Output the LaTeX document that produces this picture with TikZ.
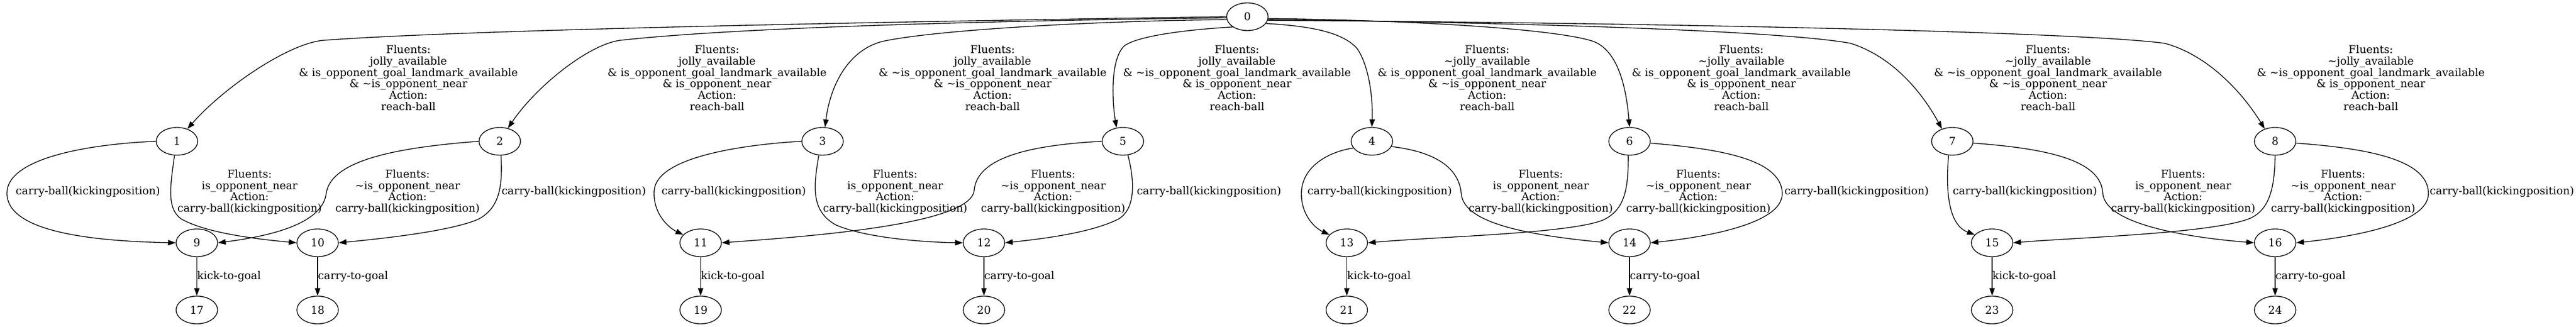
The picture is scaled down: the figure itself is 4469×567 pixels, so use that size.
\documentclass[tikz,border=0pt]{standalone}
\usepackage{fontspec}
\setmainfont{DejaVu Serif}
\usetikzlibrary{arrows.meta,shapes.geometric}

\begin{document}
\begin{tikzpicture}[x=0.75pt,y=-0.75pt]
    \tikzstyle{every node}+=[inner sep=0pt, font=\fontsize{14pt}{14.85pt}\selectfont]
    \tikzstyle{state}=[draw, ellipse, minimum width=54pt, minimum height=36pt, line width=1pt]
    \tikzstyle{lbl}=[align=center]
    \tikzstyle{tr}=[draw, line width=1pt, -{Triangle[length=10pt,width=7pt]}]
    \useasboundingbox (0,0) rectangle (4469,567);
    % states
    \node[state] (n0) at (2164,29) {0};
    \node[state] (n1) at (307,245) {1};
    \node[state] (n2) at (867,245) {2};
    \node[state] (n3) at (1427,245) {3};
    \node[state] (n5) at (1948,245) {5};
    \node[state] (n4) at (2380,245) {4};
    \node[state] (n6) at (2827,245) {6};
    \node[state] (n7) at (3387,245) {7};
    \node[state] (n8) at (3947,245) {8};
    \node[state] (n9) at (341.5,421) {9};
    \node[state] (n10) at (551,421) {10};
    \node[state] (n11) at (1215.5,421) {11};
    \node[state] (n12) at (1707,421) {12};
    \node[state] (n13) at (2336.5,421) {13};
    \node[state] (n14) at (2827,421) {14};
    \node[state] (n15) at (3456,421) {15};
    \node[state] (n16) at (3947,421) {16};
    \node[state] (n17) at (341.5,537.5) {17};
    \node[state] (n18) at (551,537.5) {18};
    \node[state] (n19) at (1215.5,537.5) {19};
    \node[state] (n20) at (1707,537.5) {20};
    \node[state] (n21) at (2336.5,537.5) {21};
    \node[state] (n22) at (2827,537.5) {22};
    \node[state] (n23) at (3456,537.5) {23};
    \node[state] (n24) at (3947,537.5) {24};
    % reach-ball from 0
    \draw[tr] (n0.west) .. controls (1500,38) and (800,52) .. (560,70) .. controls (500,76) and (390,150) .. (n1.50);
    \draw[tr] (n0.183) .. controls (1800,35) and (1300,45) .. (1075,70) .. controls (1020,78) and (930,150) .. (n2.58);
    \draw[tr] (n0.188) .. controls (1900,36) and (1620,52) .. (1530,72) .. controls (1470,88) and (1440,150) .. (n3.80);
    \draw[tr] (n0.215) .. controls (2080,50) and (1975,60) .. (1950,80) .. controls (1925,105) and (1930,180) .. (n5.115);
    \draw[tr] (n0.-20) .. controls (2270,45) and (2330,55) .. (2355,85) .. controls (2375,115) and (2382,170) .. (n4.north);
    \draw[tr] (n0.-5) .. controls (2450,35) and (2700,50) .. (2765,72) .. controls (2810,90) and (2822,160) .. (n6.north);
    \draw[tr] (n0.-8) .. controls (2700,40) and (3100,55) .. (3210,75) .. controls (3290,100) and (3340,170) .. (n7.130);
    \draw[tr] (n0.-10) .. controls (2900,40) and (3600,55) .. (3755,75) .. controls (3830,95) and (3890,160) .. (n8.130);
    \node[lbl] (l01) at (708.5,135) {Fluents:\\jolly\_available\\\& is\_opponent\_goal\_landmark\_available\\\& \textasciitilde is\_opponent\_near\\Action:\\reach-ball};
    \node[lbl] (l02) at (1244,135) {Fluents:\\jolly\_available\\\& is\_opponent\_goal\_landmark\_available\\\& is\_opponent\_near\\Action:\\reach-ball};
    \node[lbl] (l03) at (1722,135) {Fluents:\\jolly\_available\\\& \textasciitilde is\_opponent\_goal\_landmark\_available\\\& \textasciitilde is\_opponent\_near\\Action:\\reach-ball};
    \node[lbl] (l05) at (2146,135) {Fluents:\\jolly\_available\\\& \textasciitilde is\_opponent\_goal\_landmark\_available\\\& is\_opponent\_near\\Action:\\reach-ball};
    \node[lbl] (l04) at (2580,135) {Fluents:\\\textasciitilde jolly\_available\\\& is\_opponent\_goal\_landmark\_available\\\& \textasciitilde is\_opponent\_near\\Action:\\reach-ball};
    \node[lbl] (l06) at (3021,135) {Fluents:\\\textasciitilde jolly\_available\\\& is\_opponent\_goal\_landmark\_available\\\& is\_opponent\_near\\Action:\\reach-ball};
    \node[lbl] (l07) at (3553,135) {Fluents:\\\textasciitilde jolly\_available\\\& \textasciitilde is\_opponent\_goal\_landmark\_available\\\& \textasciitilde is\_opponent\_near\\Action:\\reach-ball};
    \node[lbl] (l08) at (4113,135) {Fluents:\\\textasciitilde jolly\_available\\\& \textasciitilde is\_opponent\_goal\_landmark\_available\\\& is\_opponent\_near\\Action:\\reach-ball};
    % carry-ball, 1 and 2
    \draw[tr] (n1.west) .. controls (150,250) and (12,275) .. (12,335) .. controls (12,400) and (150,418) .. (n9.west);
    \draw[tr] (n1.-100) .. controls (296,320) and (288,362) .. (315,380) .. controls (360,405) and (450,415) .. (n10.west);
    \draw[tr] (n2.west) .. controls (700,255) and (575,275) .. (566,335) .. controls (560,385) and (480,408) .. (n9.east);
    \draw[tr] (n2.-85) .. controls (872,320) and (868,360) .. (830,380) .. controls (780,402) and (650,415) .. (n10.east);
    \node (l19) at (152.6,332) {carry-ball(kickingposition)};
    \node[lbl] (l110) at (433,333) {Fluents:\\is\_opponent\_near\\Action:\\carry-ball(kickingposition)};
    \node[lbl] (l29) at (707,333) {Fluents:\\\textasciitilde is\_opponent\_near\\Action:\\carry-ball(kickingposition)};
    \node[anchor=west] (l210) at (870,332) {carry-ball(kickingposition)};
    % carry-ball, 3 and 5
    \draw[tr] (n3.west) .. controls (1300,250) and (1140,270) .. (1135,330) .. controls (1132,370) and (1160,395) .. (n11.155);
    \draw[tr] (n3.-105) .. controls (1412,320) and (1405,365) .. (1450,390) .. controls (1500,412) and (1600,420) .. (n12.west);
    \draw[tr] (n5.west) .. controls (1780,252) and (1695,275) .. (1690,330) .. controls (1685,390) and (1400,410) .. (n11.east);
    \draw[tr] (n5.-70) .. controls (1965,300) and (1975,360) .. (1940,380) .. controls (1890,405) and (1800,415) .. (n12.east);
    \node (l311) at (1273,332) {carry-ball(kickingposition)};
    \node[lbl] (l312) at (1553,333) {Fluents:\\is\_opponent\_near\\Action:\\carry-ball(kickingposition)};
    \node[lbl] (l511) at (1827,333) {Fluents:\\\textasciitilde is\_opponent\_near\\Action:\\carry-ball(kickingposition)};
    \node[anchor=west] (l512) at (1972,332) {carry-ball(kickingposition)};
    % carry-ball, 4 and 6
    \draw[tr] (n4.200) .. controls (2310,262) and (2262,285) .. (2258,330) .. controls (2255,370) and (2280,395) .. (n13.155);
    \draw[tr] (n4.-15) .. controls (2480,262) and (2530,285) .. (2535,335) .. controls (2538,380) and (2620,405) .. (n14.west);
    \draw[tr] (n6.-95) .. controls (2825,330) and (2818,365) .. (2780,382) .. controls (2720,405) and (2500,410) .. (n13.east);
    \draw[tr] (n6.-5) .. controls (2980,258) and (3090,275) .. (3092,335) .. controls (3093,390) and (2950,412) .. (n14.east);
    \node (l413) at (2393.6,332) {carry-ball(kickingposition)};
    \node[lbl] (l414) at (2673,333) {Fluents:\\is\_opponent\_near\\Action:\\carry-ball(kickingposition)};
    \node[lbl] (l613) at (2946.5,333) {Fluents:\\\textasciitilde is\_opponent\_near\\Action:\\carry-ball(kickingposition)};
    \node[anchor=west] (l614) at (3095.6,332) {carry-ball(kickingposition)};
    % carry-ball, 7 and 8
    \draw[tr] (n7.-105) .. controls (3375,330) and (3380,390) .. (n15.155);
    \draw[tr] (n7.-5) .. controls (3560,258) and (3645,280) .. (3648,335) .. controls (3652,390) and (3800,412) .. (n16.west);
    \draw[tr] (n8.south) .. controls (3946,320) and (3940,365) .. (3900,380) .. controls (3830,405) and (3600,412) .. (n15.east);
    \draw[tr] (n8.-5) .. controls (4120,258) and (4212,280) .. (4213,335) .. controls (4214,390) and (4070,412) .. (n16.east);
    \node (l715) at (3513,332) {carry-ball(kickingposition)};
    \node[lbl] (l716) at (3787.5,333) {Fluents:\\is\_opponent\_near\\Action:\\carry-ball(kickingposition)};
    \node[lbl] (l815) at (4065,333) {Fluents:\\\textasciitilde is\_opponent\_near\\Action:\\carry-ball(kickingposition)};
    \node[anchor=west] (l816) at (4215,332) {carry-ball(kickingposition)};
    % to goal
    \draw[tr] (n9) -- node[anchor=west] (l917) {kick-to-goal} (n17);
    \draw[tr] (n10) -- node[anchor=west] (l1018) {carry-to-goal} (n18);
    \draw[tr] (n11) -- node[anchor=west] (l1119) {kick-to-goal} (n19);
    \draw[tr] (n12) -- node[anchor=west] (l1220) {carry-to-goal} (n20);
    \draw[tr] (n13) -- node[anchor=west] (l1321) {kick-to-goal} (n21);
    \draw[tr] (n14) -- node[anchor=west] (l1422) {carry-to-goal} (n22);
    \draw[tr] (n15) -- node[anchor=west] (l1523) {kick-to-goal} (n23);
    \draw[tr] (n16) -- node[anchor=west] (l1624) {carry-to-goal} (n24);
\end{tikzpicture}
\end{document}
